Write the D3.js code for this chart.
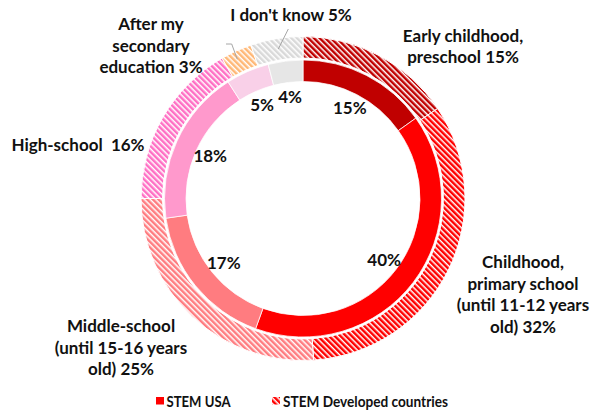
<!DOCTYPE html>
<html>
<head>
<meta charset="utf-8">
<script src="https://cdn.jsdelivr.net/npm/d3@7"></script>
<style>
  body { margin: 0; background: #fff; }
  svg { display: block; }
  text { font-family: Lato, "Open Sans", sans-serif; fill: #111; }
</style>
</head>
<body>
<svg id="chart" width="592" height="419"></svg>
<script>
'use strict';

// Chart data.
var categories = [
    'Early childhood, preschool',
    'Childhood, primary school (until 11-12 years old)',
    'Middle-school (until 15-16 years old)',
    'High-school',
    'After my secondary education',
    "I don't know"
];
var usaValues = [15, 40, 17, 18, 5, 4];
var developedValues = [15, 32, 25, 16, 3, 5];
var seriesNames = ['STEM USA', 'STEM Developed countries'];

// Label lines for the outer (developed countries) ring.
var outerLabelLines = [
    ['Early childhood,', 'preschool 15%'],
    ['Childhood,', 'primary school', '(until 11-12 years', 'old) 32%'],
    ['Middle-school', '(until 15-16 years', 'old) 25%'],
    ['High-school  16%'],
    ['After my', 'secondary', 'education 3%'],
    ["I don't know 5%"]
];

var usaColors = ['#C00000', '#FF0000', '#FF7C80', '#FF99CC', '#F9D0E8', '#E6E6E6'];
var developedColors = ['#C00000', '#FF0000', '#FF7C80', '#FF6FC4', '#FFB877', '#D9D9D9'];

var svg = d3.select('#chart');
var cx = 303, cy = 198.5;

// Hatch patterns: white background with downward diagonal stripes.
var defs = svg.append('defs');
developedColors.forEach(function(color, i) {
    var p = defs.append('pattern')
        .attr('id', 'hatch' + i)
        .attr('patternUnits', 'userSpaceOnUse')
        .attr('width', 4)
        .attr('height', 4)
        .attr('patternTransform', 'rotate(-45)');
    p.append('rect').attr('width', 4).attr('height', 4).attr('fill', '#fff');
    p.append('rect').attr('width', 2.5).attr('height', 4).attr('fill', color);
});

var pie = d3.pie().sort(null).value(function(d) { return d; });

var innerArc = d3.arc().innerRadius(117).outerRadius(138.5);
var outerArc = d3.arc().innerRadius(140.5).outerRadius(162);
var innerLabelArc = d3.arc().innerRadius(102).outerRadius(102);

var g = svg.append('g').attr('transform', 'translate(' + cx + ',' + cy + ')');

g.selectAll('path.outer')
    .data(pie(developedValues))
    .enter().append('path')
    .attr('class', 'outer')
    .attr('d', outerArc)
    .attr('fill', function(d, i) { return 'url(#hatch' + i + ')'; })
    .attr('stroke', '#fff')
    .attr('stroke-width', 1);

g.selectAll('path.inner')
    .data(pie(usaValues))
    .enter().append('path')
    .attr('class', 'inner')
    .attr('d', innerArc)
    .attr('fill', function(d, i) { return usaColors[i]; })
    .attr('stroke', '#fff')
    .attr('stroke-width', 0.75);

// Inner ring percentages, just inside the ring.
g.selectAll('text.inner-label')
    .data(pie(usaValues))
    .enter().append('text')
    .attr('class', 'inner-label')
    .attr('transform', function(d) { return 'translate(' + innerLabelArc.centroid(d) + ')'; })
    .attr('text-anchor', 'middle')
    .attr('dy', '0.36em')
    .style('font-size', '17px')
    .style('font-weight', 'bold')
    .text(function(d) { return d.value + '%'; });

// Outer labels were placed by hand in the original.
var outerLabelPos = [
    {x: 463, y: 41.7},
    {x: 523, y: 268},
    {x: 121, y: 332},
    {x: 78, y: 150.7},
    {x: 151, y: 30},
    {x: 291, y: 21}
];
var lineHeight = 21.6;

outerLabelLines.forEach(function(lines, i) {
    var t = svg.append('text')
        .attr('x', outerLabelPos[i].x)
        .attr('y', outerLabelPos[i].y)
        .attr('text-anchor', 'middle')
        .style('font-size', '17px')
        .style('font-weight', 'bold')
        .style('white-space', 'pre');
    lines.forEach(function(line, j) {
        t.append('tspan')
            .attr('x', outerLabelPos[i].x)
            .attr('y', outerLabelPos[i].y + j * lineHeight)
            .text(line);
    });
});

// Leader lines for the two small outer slices.
var leaders = [
    [[226, 44], [231.7, 44], [237.3, 59.3]],
    [[288.3, 29], [278.3, 49]]
];
leaders.forEach(function(pts) {
    svg.append('path')
        .attr('d', d3.line()(pts))
        .attr('fill', 'none')
        .attr('stroke', '#A6A6A6')
        .attr('stroke-width', 1);
});

// Legend.
var legend = svg.append('g').attr('class', 'legend');
var legendItems = [
    {x: 156, textX: 166.5, width: 64, fill: usaColors[1]},
    {x: 272, textX: 283, width: 165, fill: 'url(#hatch1)'}
];
legendItems.forEach(function(item, i) {
    legend.append('rect')
        .attr('x', item.x)
        .attr('y', 397)
        .attr('width', 8)
        .attr('height', 7.5)
        .attr('fill', item.fill);
    legend.append('text')
        .attr('x', item.textX)
        .attr('y', 406.5)
        .attr('textLength', item.width)
        .attr('lengthAdjust', 'spacingAndGlyphs')
        .style('font-size', '16px')
        .style('font-weight', 'bold')
        .text(seriesNames[i]);
});
</script>
</body>
</html>
